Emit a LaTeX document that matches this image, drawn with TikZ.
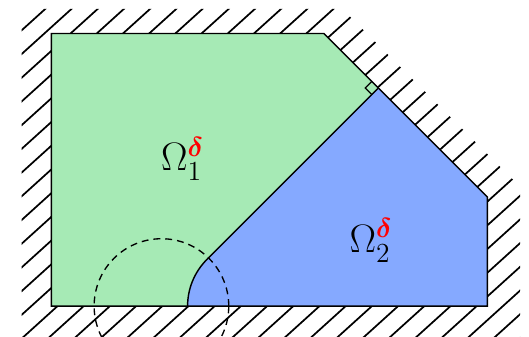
\documentclass[tikz,border=0pt]{standalone}
\usepackage{amsmath,amssymb,bm}
\usetikzlibrary{calc}
\definecolor{regA}{RGB}{166,234,181}
\definecolor{regB}{RGB}{133,169,255}
\tikzset{
  hatchline/.style={line width=0.9pt,black},
  outline/.style={line width=0.75pt,black,line join=miter},
  ballline/.style={line width=0.7pt,black,dash pattern=on 3.6pt off 2.6pt},
  lbl/.style={font=\huge,inner sep=0pt}
}
\newcommand{\reddelta}{\textcolor{red}{\bm{\delta}}}
\begin{document}
\begin{tikzpicture}
\useasboundingbox (-0.942,-0.550) rectangle (8.764,5.615);
% key points
\coordinate (A) at (0,0);
\coordinate (B) at (8,0);
\coordinate (C) at (8,2);
\coordinate (D) at (5,5);
\coordinate (E) at (0,5);
\coordinate (P) at (2.5,0);
\coordinate (Q) at (6,4);
% hatching band outside the domain
\begin{scope}
  \clip (-0.544,-1) -- (-0.544,5.45) -- (5.34,5.45) -- (8.599,2.19) -- (8.599,-1) -- cycle;
  \foreach \k in {-27,...,10} {
    \pgfmathsetmacro\xk{5.388+0.4807*\k}
    \draw[hatchline] ({\xk-2},{-0.013-0.905*2}) -- ({\xk+8},{-0.013+0.905*8});
  }
\end{scope}
% regions
\fill[regA] (A) -- (P) arc[start angle=180,end angle=135,radius=1.2071] -- (Q) -- (D) -- (E) -- cycle;
\fill[regB] (P) arc[start angle=180,end angle=135,radius=1.2071] -- (Q) -- (C) -- (B) -- cycle;
% outline and interface
\draw[outline] (A) -- (B) -- (C) -- (D) -- (E) -- cycle;
\draw[outline] (P) arc[start angle=180,end angle=135,radius=1.2071] -- (Q);
% right angle mark
\draw[line width=0.6pt] ($(Q)+(-0.12,0.12)$) -- ++(-0.12,-0.12) -- ++(0.12,-0.12);
% dashed ball
\coordinate (O) at (2.02,0);
\draw[ballline] (O) circle[radius=1.235];
% labels
\node[lbl] (L1) at (2.407,2.706) {$\Omega^{\reddelta}_{1}$};
\node[lbl] (L2) at (5.865,1.202) {$\Omega^{\reddelta}_{2}$};
\end{tikzpicture}
\end{document}
